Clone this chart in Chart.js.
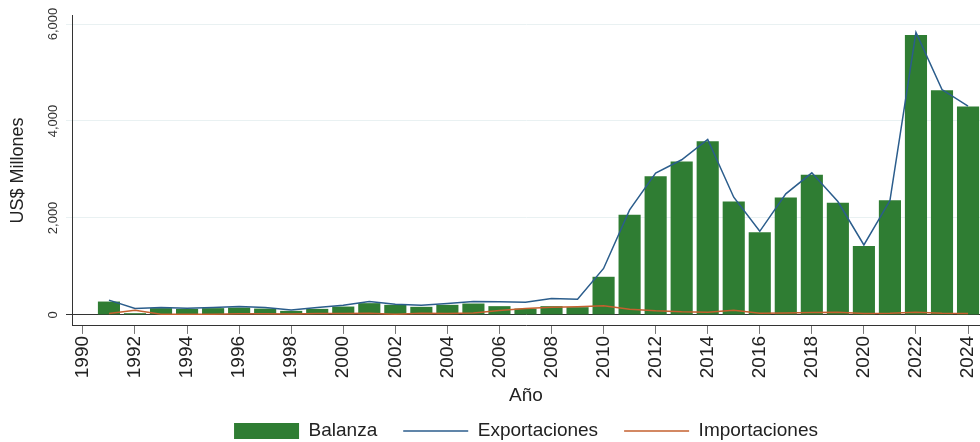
<!DOCTYPE html>
<html>
<head>
<meta charset="utf-8">
<script src="https://cdn.jsdelivr.net/npm/chart.js@4.4.1/dist/chart.umd.min.js"></script>
<style>
  body { margin: 0; background: #fff; }
  #wrap { width: 980px; height: 442px; }
</style>
</head>
<body>
<div id="wrap"><canvas id="grafico" width="980" height="442"></canvas></div>
<script>
// datos (US$ millones)
const anios = [1991, 1992, 1993, 1994, 1995, 1996, 1997, 1998, 1999, 2000,
  2001, 2002, 2003, 2004, 2005, 2006, 2007, 2008, 2009, 2010,
  2011, 2012, 2013, 2014, 2015, 2016, 2017, 2018, 2019, 2020,
  2021, 2022, 2023, 2024];
const balanza = [275, 35, 139, 124, 139, 151, 130, 83, 124, 172,
  242, 207, 166, 207, 234, 180, 130, 180, 159, 786,
  2063, 2862, 3166, 3580, 2338, 1703, 2421, 2890, 2311, 1421,
  2365, 5772, 4634, 4297];
const exportaciones = [305, 130, 151, 139, 151, 172, 151, 103, 151, 200,
  275, 221, 200, 234, 275, 269, 262, 337, 324, 958,
  2166, 2924, 3200, 3621, 2427, 1724, 2497, 2931, 2338, 1442,
  2359, 5828, 4649, 4304];
const importaciones = [27, 97, 12, 15, 12, 21, 21, 20, 27, 28,
  35, 15, 34, 27, 41, 89, 132, 157, 170, 186,
  117, 83, 62, 55, 97, 35, 41, 48, 55, 27,
  35, 55, 35, 27];
const ticksX = [1990, 1992, 1994, 1996, 1998, 2000, 2002, 2004, 2006, 2008,
  2010, 2012, 2014, 2016, 2018, 2020, 2022, 2024];
const ticksY = [0, 2000, 4000, 6000];

const fuente = '"Liberation Sans", Arial, sans-serif';
Chart.defaults.font.family = fuente;

const puntos = serie => anios.map((a, i) => ({ x: a, y: serie[i] }));

// etiquetas del eje y giradas, como en el original
const etiquetasY = {
  id: 'etiquetasY',
  afterDraw(chart) {
    const ctx = chart.ctx;
    const y = chart.scales.y;
    ctx.save();
    ctx.font = '13px ' + fuente;
    ctx.fillStyle = '#333';
    ctx.textAlign = 'center';
    ctx.textBaseline = 'middle';
    ticksY.forEach(v => {
      ctx.save();
      ctx.translate(53, y.getPixelForValue(v));
      ctx.rotate(-Math.PI / 2);
      ctx.fillText(v.toLocaleString('en-US'), 0, 0);
      ctx.restore();
    });
    ctx.restore();
  }
};

const leyenda = {
  id: 'leyenda',
  afterDraw(chart) {
    const ctx = chart.ctx;
    const area = chart.chartArea;
    const ds = chart.data.datasets;
    const caja = 65, sep = 9.5, pad = 26, yc = 431;
    ctx.save();
    ctx.font = '19px ' + fuente;
    ctx.textBaseline = 'middle';
    const anchos = ds.map(d => caja + sep + ctx.measureText(d.label).width);
    const total = anchos.reduce((a, b) => a + b, 0) + pad * (ds.length - 1);
    let x = (area.left + area.right) / 2 - total / 2;
    ds.forEach((d, i) => {
      if (d.type !== 'line') {
        ctx.fillStyle = d.backgroundColor;
        ctx.fillRect(x, yc - 8, caja, 16);
      } else {
        ctx.strokeStyle = d.borderColor;
        ctx.lineWidth = 1.5;
        ctx.beginPath();
        ctx.moveTo(x, yc);
        ctx.lineTo(x + caja, yc);
        ctx.stroke();
      }
      ctx.fillStyle = '#222';
      ctx.fillText(d.label, x + caja + sep, yc);
      x += anchos[i] + pad;
    });
    ctx.restore();
  }
};

new Chart(document.getElementById('grafico'), {
  type: 'bar',
  data: {
    datasets: [
      {
        label: 'Balanza',
        data: puntos(balanza),
        backgroundColor: '#2f7d33',
        barPercentage: 0.85,
        categoryPercentage: 1,
        order: 2
      },
      {
        type: 'line',
        label: 'Exportaciones',
        data: puntos(exportaciones),
        borderColor: '#2b5d8c',
        borderWidth: 1.5,
        pointRadius: 0,
        order: 1
      },
      {
        type: 'line',
        label: 'Importaciones',
        data: puntos(importaciones),
        borderColor: '#c4602f',
        borderWidth: 1.5,
        pointRadius: 0,
        order: 0
      }
    ]
  },
  options: {
    responsive: false,
    animation: false,
    layout: { padding: { top: 15, bottom: 33 } },
    plugins: {
      legend: { display: false },
      tooltip: { enabled: false }
    },
    scales: {
      x: {
        type: 'linear',
        offset: false,
        min: 1989.58,
        max: 2024.46,
        afterBuildTicks: s => { s.ticks = ticksX.map(v => ({ value: v })); },
        afterFit: s => { s.paddingLeft = 0; s.paddingRight = 0; },
        ticks: {
          callback: v => String(v),
          minRotation: 90,
          maxRotation: 90,
          font: { size: 19 },
          color: '#222',
          padding: 2
        },
        grid: { offset: false, drawOnChartArea: false, tickLength: 8, color: '#777' },
        border: { color: '#333' },
        title: { display: true, text: 'Año', font: { size: 19 }, color: '#222', padding: { top: 4, bottom: 2 } }
      },
      y: {
        min: -228,
        max: 6186,
        afterBuildTicks: s => { s.ticks = ticksY.map(v => ({ value: v })); },
        afterFit: s => { s.width = 72; },
        ticks: { display: false },
        grid: {
          color: c => (c.tick && c.tick.value === 0) ? '#333' : '#e9f1f2',
          tickLength: 6
        },
        border: { color: '#333' },
        title: { display: true, text: 'US$ Millones', font: { size: 18 }, color: '#222', padding: { top: 7, bottom: 0 } }
      }
    }
  },
  plugins: [etiquetasY, leyenda]
});
</script>
</body>
</html>
